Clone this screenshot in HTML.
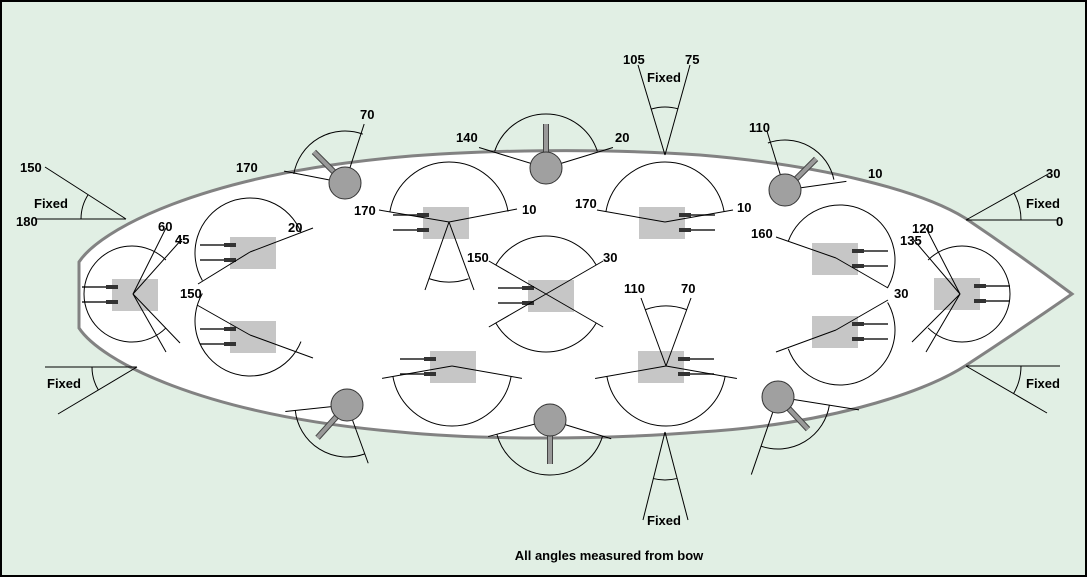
<!DOCTYPE html>
<html><head><meta charset="utf-8"><style>
html,body{margin:0;padding:0;background:#e1efe4;}
svg{display:block;}
text{font-family:"Liberation Sans",Arial,sans-serif;font-weight:bold;font-size:13px;fill:#000;}
</style></head><body>
<svg id="s" width="1087" height="577" viewBox="0 0 1087 577" xmlns="http://www.w3.org/2000/svg">
<rect x="1" y="1" width="1085" height="575" fill="#e1efe4" stroke="#000" stroke-width="2"/>
<path d="M79,262 C100,230 200,175 400,157 C480,150 600,148 700,155 C820,165 920,190 965,218 Q1020,255 1072,294 Q1020,330 965,366 C920,395 820,425 700,432 C600,440 480,440 400,432 C200,415 100,360 79,328 Z" fill="#fff" stroke="#828282" stroke-width="3"/>
<g id="boxes"></g>
<g id="lines" stroke="#000" stroke-width="1" fill="none"></g>
<g id="sec"></g>
<g>
<text x="16" y="226">180</text>
<text x="20" y="172">150</text>
<text x="34" y="208">Fixed</text>
<text x="47" y="388">Fixed</text>
<text x="158" y="231">60</text>
<text x="175" y="244">45</text>
<text x="288" y="232">20</text>
<text x="180" y="298">150</text>
<text x="236" y="172">170</text>
<text x="360" y="119">70</text>
<text x="456" y="142">140</text>
<text x="615" y="142">20</text>
<text x="623" y="64">105</text>
<text x="685" y="64">75</text>
<text x="647" y="82">Fixed</text>
<text x="354" y="215">170</text>
<text x="522" y="214">10</text>
<text x="575" y="208">170</text>
<text x="737" y="212">10</text>
<text x="467" y="262">150</text>
<text x="603" y="262">30</text>
<text x="624" y="293">110</text>
<text x="681" y="293">70</text>
<text x="749" y="132">110</text>
<text x="868" y="178">10</text>
<text x="751" y="238">160</text>
<text x="894" y="298">30</text>
<text x="912" y="233">120</text>
<text x="900" y="245">135</text>
<text x="1046" y="178">30</text>
<text x="1026" y="208">Fixed</text>
<text x="1056" y="226">0</text>
<text x="1026" y="388">Fixed</text>
<text x="647" y="525">Fixed</text>
<text x="609" y="560" text-anchor="middle">All angles measured from bow</text>
</g>
</svg>
<script>
var NS="http://www.w3.org/2000/svg";
function el(p,t,a){var e=document.createElementNS(NS,t);for(var k in a)e.setAttribute(k,a[k]);document.getElementById(p).appendChild(e);return e;}
function P(cx,cy,r,a){a=a*Math.PI/180;return [cx+r*Math.cos(a),cy-r*Math.sin(a)];}
function L(x1,y1,x2,y2){el("lines","line",{x1:x1,y1:y1,x2:x2,y2:y2});}
function R(cx,cy,a,len){var p=P(cx,cy,len,a);L(cx,cy,p[0],p[1]);}
function A(cx,cy,r,a1,a2){var d=((a2-a1)%360+360)%360;var p1=P(cx,cy,r,a1),p2=P(cx,cy,r,a2);
el("lines","path",{d:"M"+p1[0]+","+p1[1]+" A"+r+","+r+" 0 "+(d>180?1:0)+" 0 "+p2[0]+","+p2[1]});}
function T(x,y,left){el("boxes","rect",{x:x,y:y,width:46,height:32,fill:"#c6c6c6"});
var b1=y+8,b2=y+23;
if(left){[b1,b2].forEach(function(b){el("boxes","line",{x1:x-30,y1:b,x2:x+6,y2:b,stroke:"#222","stroke-width":1.5});el("boxes","rect",{x:x-6,y:b-2,width:12,height:4,fill:"#333"});});}
else{[b1,b2].forEach(function(b){el("boxes","line",{x1:x+40,y1:b,x2:x+76,y2:b,stroke:"#222","stroke-width":1.5});el("boxes","rect",{x:x+40,y:b-2,width:12,height:4,fill:"#333"});});}}
T(112,279,1);T(230,237,1);T(230,321,1);T(423,207,1);T(528,280,1);T(430,351,1);
T(639,207,0);T(638,351,0);T(812,243,0);T(812,316,0);T(934,278,0);
A(132,294,48,45,315);L(133,294,166,228);L(133,294,182,239);L(133,294,166,352);L(133,294,180,343);
A(250,253,55,22,210);L(198,284,250,252);L(250,252,313,228);
A(250,321,55,150,338);L(197,305,250,335);L(250,335,313,358);
A(449,222,60,10,170);L(379,210,449,222);L(449,222,517,209);L(449,222,425,290);L(449,222,474,290);A(449,222,60,251,289);
A(546,294,58,30,150);A(546,294,58,210,330);R(546,294,30,66);R(546,294,150,66);R(546,294,210,66);R(546,294,330,66);
A(665,222,60,10,170);L(597,210,665,222);L(665,222,733,210);
A(452,366,60,190,350);R(452,366,190,71);R(452,366,350,71);
A(666,366,60,190,350);R(666,366,190,72);R(666,366,350,72);L(666,366,641,298);L(666,366,691,298);A(666,366,60,70,110);
A(840,260,55,330,160);L(776,237,836,258);L(836,258,888,288);
A(840,330,55,200,30);L(776,352,836,330);L(836,330,888,300);
A(962,294,48,225,135);L(960,294,913,239);L(960,294,926,228);L(960,294,912,342);L(960,294,926,352);
L(126,219,45,167);L(126,219,35,219);A(126,219,45,147,180);
L(137,367,45,367);L(137,367,58,414);A(137,367,45,180,211);
L(665,155,638,65);L(665,155,690,65);A(665,155,48,74,107);
L(665,432,643,520);L(665,432,688,520);A(665,432,48,256,284);
L(966,220,1050,173);L(966,220,1058,220);A(966,220,55,0,29);
L(966,366,1060,366);L(966,366,1047,413);A(966,366,55,330,360);
function S(cx,cy,ba,la,lb,len,r,a1,a2){A(cx,cy,r,a1,a2);R(cx,cy,la,len);R(cx,cy,lb,len);
var p=P(cx,cy,44,ba);el("sec","line",{x1:cx,y1:cy,x2:p[0],y2:p[1],stroke:"#444","stroke-width":6});
el("sec","line",{x1:cx,y1:cy,x2:p[0],y2:p[1],stroke:"#999","stroke-width":4});
el("sec","circle",{cx:cx,cy:cy,r:16,fill:"#a0a0a0",stroke:"#333","stroke-width":1});}
S(345,183,135,169,72,62,52,70,170);
S(546,168,90,163,17,70,54,18,162);
S(785,190,45,107,8,62,50,12,110);
S(347,405,228,186,290,62,52,186,290);
S(550,420,270,195,343,64,55,195,343);
S(778,397,313,351,251,82,52,251,351);
</script>
</body></html>
